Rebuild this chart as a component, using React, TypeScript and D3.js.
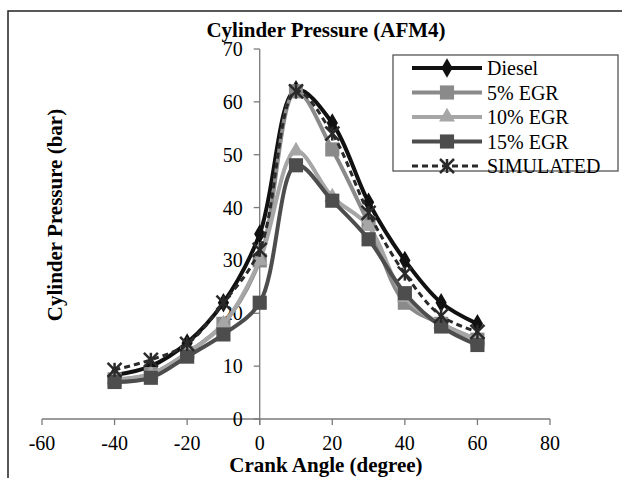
import React from 'react';
import { scaleLinear, line, curveCatmullRom, symbol, symbolDiamond, symbolSquare, symbolTriangle } from 'd3';

const angles = [-40, -30, -20, -10, 0, 10, 20, 30, 40, 50, 60];
const diesel = [8.3, 10, 14.4, 22, 35, 62.3, 56, 41, 30, 22, 18];
const egr5 = [7.5, 8.5, 12.5, 18, 30, 62, 51, 37, 22, 18, 15];
const egr10 = [7.5, 8.5, 12.5, 18, 30, 50.7, 42, 36.5, 23, 18, 15];
const egr15 = [7, 7.8, 11.8, 16, 22, 48, 41.3, 34, 23.8, 17.5, 14];
const simulated = [9.3, 11.2, 14.2, 22, 32, 62, 54, 39, 27.5, 19.5, 16.5];

const xTicks = [-60, -40, -20, 0, 20, 40, 60, 80];
const yTicks = [0, 10, 20, 30, 40, 50, 60, 70];

const series = [
  { name: 'Diesel', values: diesel, color: '#111111', marker: 'diamond', dash: '' },
  { name: '5% EGR', values: egr5, color: '#8a8a8a', marker: 'square', dash: '' },
  { name: '10% EGR', values: egr10, color: '#a6a6a6', marker: 'triangle', dash: '' },
  { name: '15% EGR', values: egr15, color: '#4d4d4d', marker: 'square', dash: '' },
  { name: 'SIMULATED', values: simulated, color: '#2a2a2a', marker: 'star', dash: '6,4' },
];

const font = "'Liberation Serif', Tinos, 'Times New Roman', 'DejaVu Serif', serif";

function Marker({ kind, x, y, color }: any) {
  if (kind === 'star') {
    const r = 7;
    return (
      <g transform={`translate(${x},${y})`} stroke={color} strokeWidth={2.5}>
        <line x1={-r} y1={-r} x2={r} y2={r} />
        <line x1={-r} y1={r} x2={r} y2={-r} />
        <line x1={0} y1={-r} x2={0} y2={r} />
      </g>
    );
  }
  const type = kind === 'diamond' ? symbolDiamond : kind === 'triangle' ? symbolTriangle : symbolSquare;
  const size = kind === 'diamond' ? 110 : kind === 'triangle' ? 110 : 200;
  const d = symbol().type(type).size(size)() as string;
  return <path d={d} transform={`translate(${x},${y})`} fill={color} />;
}

export default function App() {
  const x = scaleLinear().domain([-60, 80]).range([42, 550]);
  const y = scaleLinear().domain([0, 70]).range([419, 49]);

  const path = line<number>()
    .x((d, i) => x(angles[i]))
    .y((d) => y(d))
    .curve(curveCatmullRom.alpha(0.5));

  const legendX = 412;
  const legendY = 68;
  const legendStep = 24.5;

  return (
    <div style={{ position: 'fixed', left: 0, top: 0 }}>
      <svg width={622} height={478} style={{ display: 'block', background: '#fff', fontFamily: font }}>
        <rect x={8} y={11} width={640} height={500} fill="#fff" stroke="#222" strokeWidth={1.5} />
        <text x={326} y={37} textAnchor="middle" style={{ fontFamily: font }} fontWeight="bold" fontSize={21}>
          Cylinder Pressure (AFM4)
        </text>

        {/* x axis */}
        <line x1={x(-60)} x2={x(80)} y1={y(0)} y2={y(0)} stroke="#7a7a7a" strokeWidth={1.3} />
        {xTicks.map((t) => (
          <g key={t}>
            <line x1={x(t)} x2={x(t)} y1={y(0)} y2={y(0) + 6} stroke="#7a7a7a" strokeWidth={1.3} />
            <text x={x(t)} y={y(0) + 31} textAnchor="middle" style={{ fontFamily: font }} fontSize={20}>
              {t}
            </text>
          </g>
        ))}

        {/* y axis */}
        <line x1={x(0)} x2={x(0)} y1={y(70)} y2={y(0) + 6} stroke="#7a7a7a" strokeWidth={1.3} />
        {yTicks.map((t) => (
          <g key={t}>
            <line x1={x(0) - 6} x2={x(0)} y1={y(t)} y2={y(t)} stroke="#7a7a7a" strokeWidth={1.3} />
            <text x={x(0) - 17} y={y(t) + 7} textAnchor="end" style={{ fontFamily: font }} fontSize={20}>
              {t}
            </text>
          </g>
        ))}

        <text x={326} y={472} textAnchor="middle" style={{ fontFamily: font }} fontWeight="bold" fontSize={21}>
          Crank Angle (degree)
        </text>
        <text
          transform="translate(62,215) rotate(-90)"
          textAnchor="middle"
          style={{ fontFamily: font }}
          fontWeight="bold"
          fontSize={21}
        >
          Cylinder Pressure (bar)
        </text>

        {series.map((s) => (
          <g key={s.name}>
            <path d={path(s.values) as string} fill="none" stroke={s.color} strokeWidth={s.dash ? 3 : 4} strokeDasharray={s.dash || undefined} />
            {s.values.map((v, i) => (
              <Marker key={i} kind={s.marker} x={x(angles[i])} y={y(v)} color={s.color} />
            ))}
          </g>
        ))}

        {/* legend */}
        <rect x={393} y={55} width={225} height={116} fill="#fff" stroke="#555" strokeWidth={1.3} />
        {series.map((s, i) => {
          const ly = legendY + i * legendStep;
          return (
            <g key={s.name}>
              <line x1={legendX} x2={legendX + 70} y1={ly} y2={ly} stroke={s.color} strokeWidth={s.dash ? 3 : 4} strokeDasharray={s.dash || undefined} />
              <Marker kind={s.marker} x={legendX + 35} y={ly} color={s.color} />
              <text x={legendX + 75} y={ly + 7} style={{ fontFamily: font }} fontSize={20}>
                {s.name}
              </text>
            </g>
          );
        })}
      </svg>
    </div>
  );
}
